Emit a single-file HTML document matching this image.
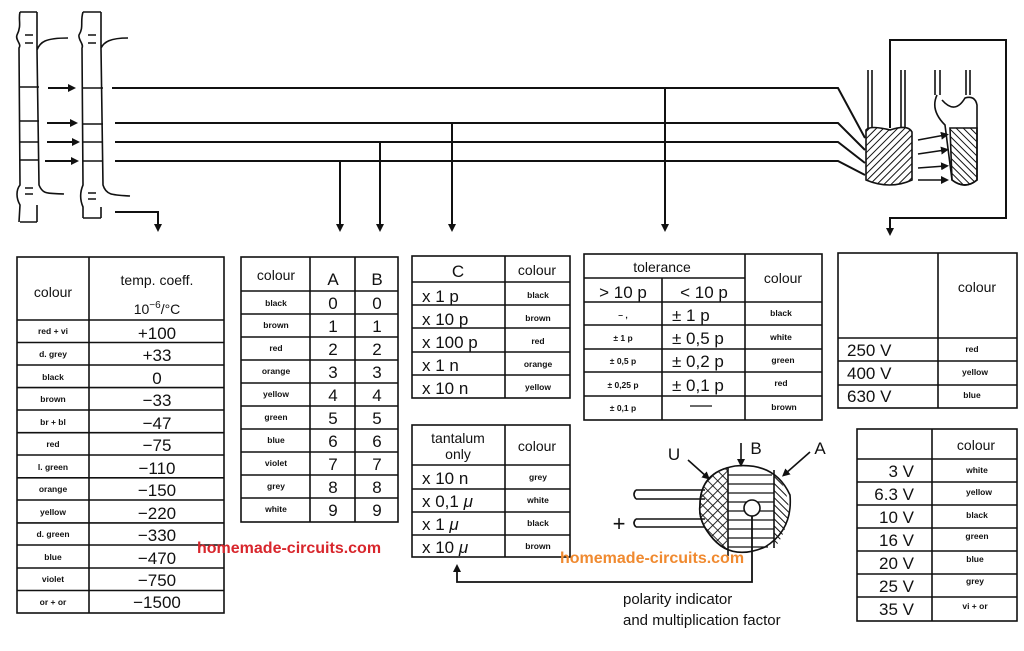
<!DOCTYPE html>
<html><head><meta charset="utf-8"><style>
html,body{margin:0;padding:0;background:#fff;}
svg{display:block;}
text{font-family:"Liberation Sans",sans-serif;fill:#111;}
.s{font-size:8.5px;font-weight:bold;text-anchor:middle;}
.b{font-size:17px;text-anchor:middle;}
.h{font-size:14px;text-anchor:middle;}
.l{stroke:#111;stroke-width:2;fill:none;}
.t{stroke:#111;stroke-width:1.6;fill:none;}
</style></head><body>
<svg width="1024" height="651" viewBox="0 0 1024 651">
<defs><marker id="ar" markerWidth="8" markerHeight="8" refX="4" refY="4" orient="auto" markerUnits="userSpaceOnUse"><path d="M0,0 L8,4 L0,8 z" fill="#111"/></marker>
<pattern id="hat" width="5" height="5" patternUnits="userSpaceOnUse" patternTransform="rotate(45)"><line x1="0" y1="0" x2="0" y2="5" stroke="#111" stroke-width="2"/></pattern>
<pattern id="hat2" width="5" height="5" patternUnits="userSpaceOnUse" patternTransform="rotate(-45)"><line x1="0" y1="0" x2="0" y2="5" stroke="#111" stroke-width="2"/></pattern>
<pattern id="xh" width="7" height="7" patternUnits="userSpaceOnUse" patternTransform="rotate(45)"><path d="M0,0 V7 M0,0 H7" stroke="#111" stroke-width="1.8"/></pattern>
</defs>
<!-- left resistors -->
<g class="t">
<path d="M20,12 C18,20 22,25 17,35 C15,40 22,44 19,48 L20,185 C16,190 16,198 20,205 L19,222 M37,12 L37,50 C40,42 45,38 68,38 M37,50 L39,185 C43,195 48,193 64,194 M37,205 L37,222 M20,222 L37,222 M20,12 L37,12"/>
<path d="M83,12 C80,22 84,27 79,35 C78,40 84,44 82,48 L83,185 C80,192 80,200 83,207 L83,218 M101,12 L101,48 C104,42 110,38 128,38 M101,48 L103,185 C106,195 112,195 130,196 M101,207 L101,218 M83,218 L101,218 M83,12 L101,12"/>
<path d="M20,87 H39 M20,121 H39 M20,142 H39 M20,160 H39 M83,88 H103 M83,124 H103 M83,142 H103 M83,161 H103 M25,35 H33 M25,43 H33 M88,35 H96 M88,43 H96 M25,188 H33 M25,194 H33 M88,193 H96 M88,199 H96"/>
</g>
<g class="l" marker-end="url(#ar)"><line x1="48" y1="88" x2="72" y2="88"/><line x1="47" y1="123" x2="74" y2="123"/><line x1="47" y1="142" x2="76" y2="142"/><line x1="45" y1="161" x2="75" y2="161"/></g>
<!-- main lines -->
<g class="l">
<path d="M112,88 H838 L865,138"/><path d="M115,123 H838 L865,150"/><path d="M115,142 H838 L865,163"/><path d="M115,161 H838 L865,175"/>
<path d="M115,212 H158 V228" marker-end="url(#ar)"/>
<path d="M340,161 V228" marker-end="url(#ar)"/><path d="M380,142 V228" marker-end="url(#ar)"/><path d="M452,123 V228" marker-end="url(#ar)"/><path d="M665,88 V228" marker-end="url(#ar)"/>
<path d="M890,128 V40 H1006 V218 H890 V232" marker-end="url(#ar)"/>
</g>
<!-- capacitors -->
<g class="t"><path d="M868,128 V70 M872,128 V70 M901,128 V70 M905,128 V70 M935,70 V95 M940,70 V95 M966,70 V95 M970,70 V95"/>
<path d="M866,130 Q870,125 890,130 Q908,124 912,132 V180 Q890,190 866,180 Z" fill="url(#hat)"/>
<path d="M937,95 Q930,110 945,125 L952,180 Q965,190 977,180 V105 Q975,95 965,98 Q955,115 942,100" fill="#fff"/>
<path d="M950,128 H977 V180 Q965,190 952,180 Z" fill="url(#hat2)"/></g>
<g class="t" marker-end="url(#ar)"><line x1="918" y1="140" x2="945" y2="135"/><line x1="918" y1="154" x2="945" y2="150"/><line x1="918" y1="168" x2="945" y2="166"/><line x1="918" y1="180" x2="945" y2="180"/></g>

<!-- T1 -->
<g class="t"><rect x="17" y="257" width="207" height="356"/><line x1="89" y1="257" x2="89" y2="613"/>
<path d="M17,320H224M17,342.5H224M17,365H224M17,387.6H224M17,410H224M17,432.7H224M17,455H224M17,477.8H224M17,500H224M17,522.9H224M17,545H224M17,568H224M17,590.5H224"/></g>
<text class="h" x="53" y="297">colour</text><text class="h" x="157" y="285">temp. coeff.</text><text class="h" x="157" y="314">10<tspan font-size="10" dy="-6">−6</tspan><tspan dy="6">/°C</tspan></text>
<g class="s"><text x="53" y="334">red + vi</text><text x="53" y="357">d. grey</text><text x="53" y="380">black</text><text x="53" y="402">brown</text><text x="53" y="425">br + bl</text><text x="53" y="447">red</text><text x="53" y="470">l. green</text><text x="53" y="492">orange</text><text x="53" y="515">yellow</text><text x="53" y="537">d. green</text><text x="53" y="560">blue</text><text x="53" y="582">violet</text><text x="53" y="605">or + or</text></g>
<g class="b"><text x="157" y="339">+100</text><text x="157" y="361">+33</text><text x="157" y="384">0</text><text x="157" y="406">−33</text><text x="157" y="429">−47</text><text x="157" y="451">−75</text><text x="157" y="474">−110</text><text x="157" y="496">−150</text><text x="157" y="519">−220</text><text x="157" y="541">−330</text><text x="157" y="564">−470</text><text x="157" y="586">−750</text><text x="157" y="608">−1500</text></g>

<!-- T2 -->
<g class="t"><rect x="241" y="257" width="157" height="265"/><line x1="310" y1="257" x2="310" y2="522"/><line x1="355" y1="257" x2="355" y2="522"/>
<path d="M241,291H398M241,314H398M241,337H398M241,360H398M241,383H398M241,406H398M241,429H398M241,452H398M241,475H398M241,498H398"/></g>
<text class="h" x="276" y="280">colour</text><text class="b" x="333" y="285">A</text><text class="b" x="377" y="285">B</text>
<g class="s"><text x="276" y="306">black</text><text x="276" y="328">brown</text><text x="276" y="351">red</text><text x="276" y="374">orange</text><text x="276" y="397">yellow</text><text x="276" y="420">green</text><text x="276" y="443">blue</text><text x="276" y="466">violet</text><text x="276" y="489">grey</text><text x="276" y="512">white</text></g>
<g class="b"><text x="333" y="309">0</text><text x="333" y="332">1</text><text x="333" y="355">2</text><text x="333" y="378">3</text><text x="333" y="401">4</text><text x="333" y="424">5</text><text x="333" y="447">6</text><text x="333" y="470">7</text><text x="333" y="493">8</text><text x="333" y="516">9</text>
<text x="377" y="309">0</text><text x="377" y="332">1</text><text x="377" y="355">2</text><text x="377" y="378">3</text><text x="377" y="401">4</text><text x="377" y="424">5</text><text x="377" y="447">6</text><text x="377" y="470">7</text><text x="377" y="493">8</text><text x="377" y="516">9</text></g>

<!-- T3 -->
<g class="t"><rect x="412" y="256" width="158" height="142"/><line x1="505" y1="256" x2="505" y2="398"/><path d="M412,282H570M412,305H570M412,328H570M412,352H570M412,375H570"/></g>
<text class="b" x="458" y="277">C</text><text class="h" x="537" y="275">colour</text>
<g class="b"><text x="422" y="302" style="text-anchor:start">x 1 p</text><text x="422" y="325" style="text-anchor:start">x 10 p</text><text x="422" y="348" style="text-anchor:start">x 100 p</text><text x="422" y="371" style="text-anchor:start">x 1 n</text><text x="422" y="394" style="text-anchor:start">x 10 n</text></g>
<g class="s"><text x="538" y="298">black</text><text x="538" y="321">brown</text><text x="538" y="344">red</text><text x="538" y="367">orange</text><text x="538" y="390">yellow</text></g>

<!-- T4 -->
<g class="t"><rect x="412" y="425" width="158" height="132"/><line x1="505" y1="425" x2="505" y2="557"/><path d="M412,465H570M412,489H570M412,512H570M412,535H570"/></g>
<text class="h" x="458" y="443">tantalum</text><text class="h" x="458" y="459">only</text><text class="h" x="537" y="451">colour</text>
<g class="b"><text x="422" y="484" style="text-anchor:start">x 10 n</text><text x="422" y="507" style="text-anchor:start">x 0,1 <tspan font-style="italic">μ</tspan></text><text x="422" y="530" style="text-anchor:start">x 1 <tspan font-style="italic">μ</tspan></text><text x="422" y="553" style="text-anchor:start">x 10 <tspan font-style="italic">μ</tspan></text></g>
<g class="s"><text x="538" y="480">grey</text><text x="538" y="503">white</text><text x="538" y="526">black</text><text x="538" y="549">brown</text></g>

<!-- T5 -->
<g class="t"><rect x="584" y="254" width="238" height="166"/><line x1="745" y1="254" x2="745" y2="420"/><line x1="584" y1="278" x2="745" y2="278"/><line x1="662" y1="278" x2="662" y2="420"/>
<path d="M584,302H822M584,325H822M584,349H822M584,372H822M584,396H822"/></g>
<text class="h" x="662" y="272">tolerance</text><text class="h" x="783" y="283">colour</text>
<text class="b" x="623" y="298">&gt; 10 p</text><text class="b" x="704" y="298">&lt; 10 p</text>
<g class="s"><text x="623" y="318">–     ,</text><text x="623" y="341">± 1 p</text><text x="623" y="364">± 0,5 p</text><text x="623" y="388">± 0,25 p</text><text x="623" y="411">± 0,1 p</text>
<text x="781" y="316">black</text><text x="781" y="340">white</text><text x="783" y="363">green</text><text x="781" y="386">red</text><text x="784" y="410">brown</text></g>
<g class="b"><text x="672" y="321" style="text-anchor:start">± 1 p</text><text x="672" y="344" style="text-anchor:start">± 0,5 p</text><text x="672" y="367" style="text-anchor:start">± 0,2 p</text><text x="672" y="391" style="text-anchor:start">± 0,1 p</text></g>
<line x1="690" y1="406" x2="712" y2="406" stroke="#111" stroke-width="1.3"/>

<!-- T6 -->
<g class="t"><rect x="838" y="253" width="179" height="155"/><line x1="938" y1="253" x2="938" y2="408"/><path d="M838,338H1017M838,361H1017M838,385H1017"/></g>
<text class="h" x="977" y="292">colour</text>
<g class="b"><text x="847" y="356" style="text-anchor:start">250 V</text><text x="847" y="379" style="text-anchor:start">400 V</text><text x="847" y="402" style="text-anchor:start">630 V</text></g>
<g class="s"><text x="972" y="352">red</text><text x="975" y="375">yellow</text><text x="972" y="398">blue</text></g>

<!-- T7 -->
<g class="t"><rect x="857" y="429" width="160" height="192"/><line x1="932" y1="429" x2="932" y2="621"/><path d="M857,459H1017M857,482H1017M857,505H1017M857,528H1017M857,551H1017M857,574H1017M857,597H1017"/></g>
<text class="h" x="976" y="450">colour</text>
<g class="b"><text x="914" y="477" style="text-anchor:end">3 V</text><text x="914" y="500" style="text-anchor:end">6.3 V</text><text x="914" y="523" style="text-anchor:end">10 V</text><text x="914" y="546" style="text-anchor:end">16 V</text><text x="914" y="569" style="text-anchor:end">20 V</text><text x="914" y="592" style="text-anchor:end">25 V</text><text x="914" y="615" style="text-anchor:end">35 V</text></g>
<g class="s"><text x="977" y="473">white</text><text x="979" y="495">yellow</text><text x="977" y="518">black</text><text x="977" y="539">green</text><text x="975" y="562">blue</text><text x="975" y="584">grey</text><text x="975" y="609">vi + or</text></g>

<!-- tantalum cap -->
<g class="t">
<path d="M636,490 H705 M636,499 H705 M636,490 Q632,494 636,499"/>
<path d="M636,519 H705 M636,527 H705 M636,519 Q632,523 636,527"/>
<path d="M700,505 Q700,472 735,466 Q775,462 790,495 Q793,530 765,547 Q730,562 710,535 Q698,520 700,505 Z" fill="url(#xh)"/>
<path d="M728,460 L727,560 L800,560 L800,460 Z" fill="#fff" stroke="none"/>
<path d="M774,470 Q792,495 788,520 Q782,540 774,548 Z" fill="url(#hat2)" stroke="none"/>
<path d="M728,475 H772 M728,484 H774 M728,493 H774 M728,502 H774 M728,511 H774 M728,520 H774 M728,529 H774 M728,538 H774 M728,547 H768" stroke-width="1.2"/>
<path d="M700,505 Q700,472 735,466 Q775,462 790,495 Q793,530 765,547 Q730,562 710,535 Q698,520 700,505 Z"/>
<line x1="728" y1="468" x2="728" y2="556"/><line x1="774" y1="470" x2="774" y2="548"/>
<circle cx="752" cy="508" r="8" fill="#fff"/>
<path d="M752,516 V582 H457 V568" marker-end="url(#ar)" stroke-width="1.8"/>
</g>
<g class="t" marker-end="url(#ar)"><line x1="688" y1="460" x2="707" y2="477"/><line x1="741" y1="443" x2="741" y2="463"/><line x1="810" y1="452" x2="785" y2="474"/></g>
<text class="b" x="674" y="460">U</text><text class="b" x="756" y="454">B</text><text class="b" x="820" y="454">A</text>
<text x="619" y="531" font-size="22" style="text-anchor:middle">+</text>
<text x="623" y="604" font-size="15">polarity indicator</text><text x="623" y="625" font-size="15">and multiplication factor</text>

<text x="197" y="553" font-size="16" font-weight="bold" style="fill:#d8262c">homemade-circuits.com</text>
<text x="560" y="563" font-size="16" font-weight="bold" style="fill:#f08a30">homemade-circuits.com</text>
</svg>
</body></html>
